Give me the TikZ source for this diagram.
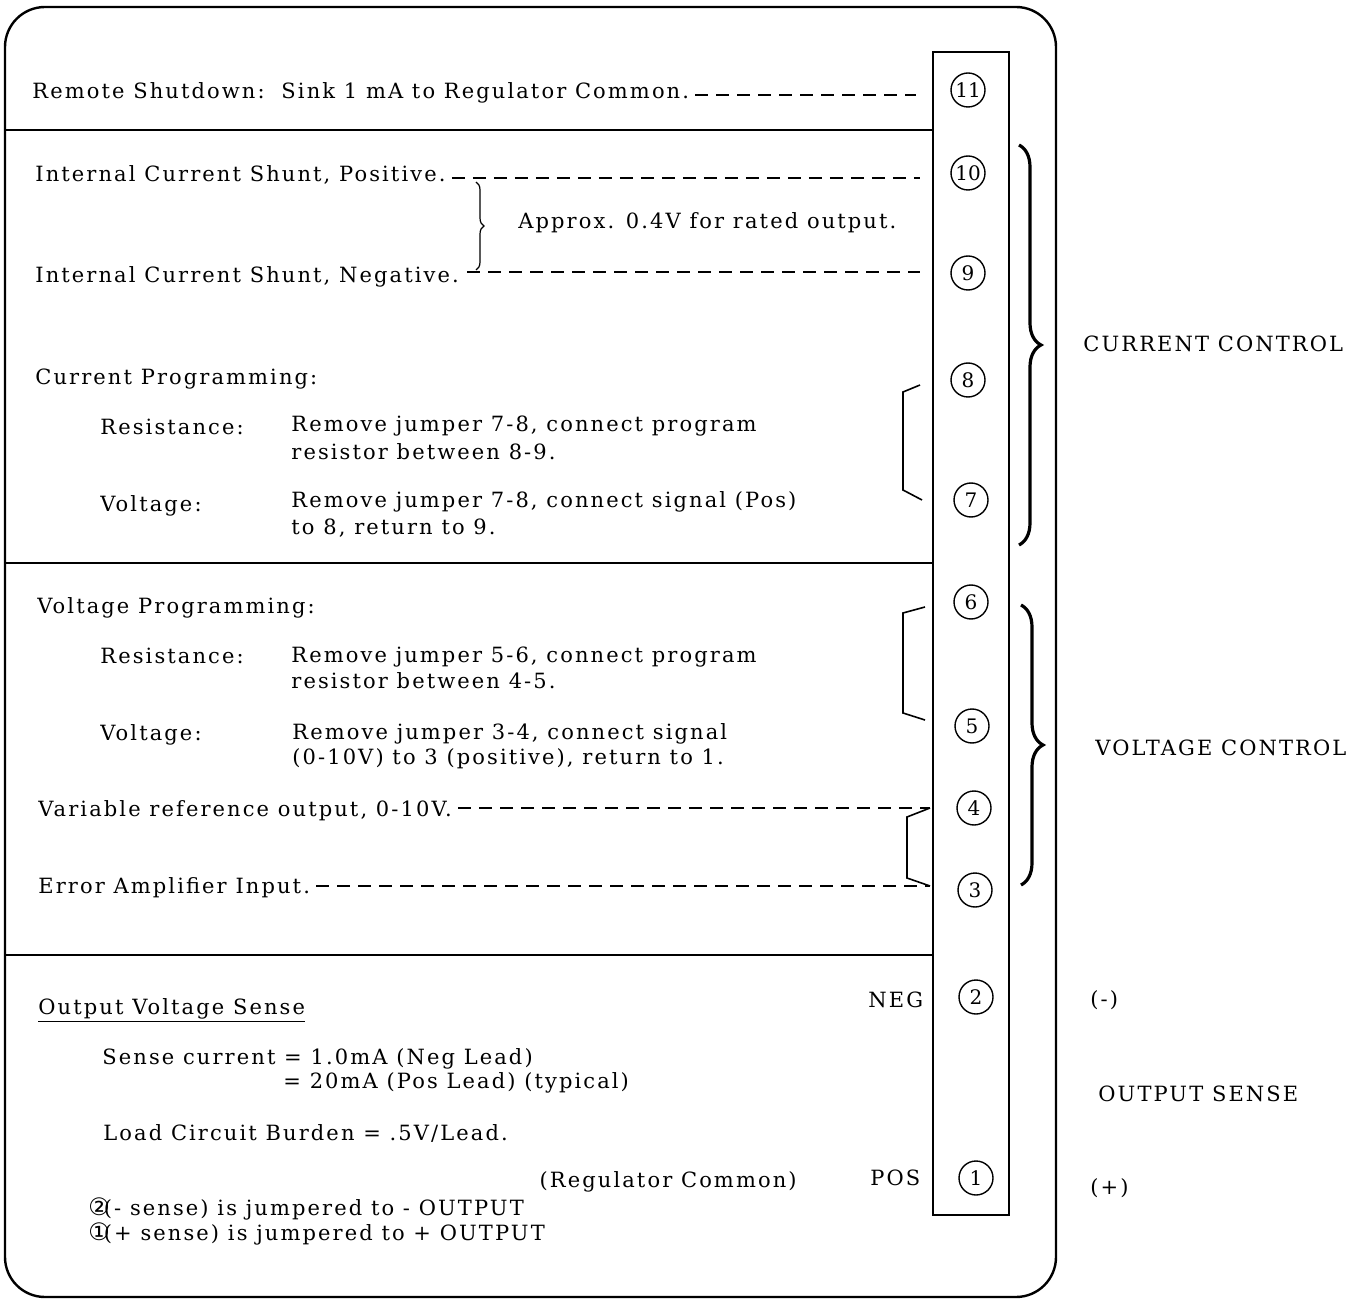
\documentclass[tikz,border=0pt]{standalone}
\usepackage{fontspec}
\setmainfont{DejaVu Serif}[LetterSpace=10]
\newfontfamily\symfont{DejaVu Sans}
\usetikzlibrary{decorations.pathreplacing}

\begin{document}
\begin{tikzpicture}[
    x=0.5pt, y=-0.5pt,
    every node/.style={font=\fontsize{10.5}{12}\selectfont},
    txt/.style={anchor=base west, inner sep=0pt},
    pin/.style={draw, circle, line width=0.7pt, minimum size=17pt, inner sep=0pt,
        font=\fontsize{10}{12}\selectfont\addfontfeature{LetterSpace=0}},
    leader/.style={dash pattern=on 6.5pt off 4pt, line width=0.7pt},
    rule/.style={line width=1pt},
    jumper/.style={line width=0.8pt},
    bigbrace/.style={decorate, decoration={brace, amplitude=11pt}, line width=1.6pt}
]
    \useasboundingbox (0,0) rectangle (1355,1299);

    % frame, terminal strip and section rules
    \draw[line width=1.2pt, rounded corners=20pt] (5,7) rectangle (1056,1297);
    \draw[rule] (933,52) rectangle (1009,1215);
    \draw[rule] (5,130) -- (933,130);
    \draw[rule] (5,563) -- (933,563);
    \draw[rule] (5,955) -- (933,955);

    % terminals
    \node[pin] (p11) at (968,90) {11};
    \node[pin] (p10) at (968,173) {10};
    \node[pin] (p9) at (968,273) {9};
    \node[pin] (p8) at (968,380) {8};
    \node[pin] (p7) at (971,500) {7};
    \node[pin] (p6) at (971,602) {6};
    \node[pin] (p5) at (972,726) {5};
    \node[pin] (p4) at (974,808) {4};
    \node[pin] (p3) at (975,890) {3};
    \node[pin] (p2) at (976,997) {2};
    \node[pin] (p1) at (976,1178) {1};

    % remote shutdown
    \node[txt] (shdn) at (32,99) {Remote Shutdown:\hspace{0.8em}Sink 1 mA to Regulator Common.};
    \coordinate (l11) at (916,95);
    \draw[leader] ([xshift=3pt]shdn.base east) ++(0,-4) -- (l11);

    % current shunt
    \node[txt] (shpos) at (35,182) {Internal Current Shunt, Positive.};
    \node[txt] (shneg) at (35,283) {Internal Current Shunt, Negative.};
    \node[txt] (approx) at (518,229) {Approx. 0.4V for rated output.};
    \coordinate (l10) at (920,178);
    \coordinate (l9) at (920,272);
    \draw[leader] ([xshift=3pt]shpos.base east) ++(0,-4) -- (l10);
    \draw[leader] ([xshift=4pt]shneg.base east) ++(0,-11) -- (l9);
    \draw[decorate, decoration={brace, amplitude=4pt}, line width=0.6pt] (476,182) -- (476,270);

    % current programming
    \node[txt] (curprog) at (35,385) {Current Programming:};
    \node[txt] (cres) at (100,435) {Resistance:};
    \node[txt] (cresA) at (291,432) {Remove jumper 7-8, connect program};
    \node[txt] (cresB) at (291,459) {resistor between 8-9.};
    \node[txt] (cvolt) at (100,512) {Voltage:};
    \node[txt] (cvoltA) at (291,508) {Remove jumper 7-8, connect signal (Pos)};
    \node[txt] (cvoltB) at (291,535) {to 8, return to 9.};
    \draw[jumper] (920,385) -- (903,392) -- (903,490) -- (922,500);

    % voltage programming
    \node[txt] (volprog) at (37,613) {Voltage Programming:};
    \node[txt] (vres) at (100,663) {Resistance:};
    \node[txt] (vresA) at (291,662) {Remove jumper 5-6, connect program};
    \node[txt] (vresB) at (291,688) {resistor between 4-5.};
    \node[txt] (vvolt) at (100,740) {Voltage:};
    \node[txt] (vvoltA) at (292,739) {Remove jumper 3-4, connect signal};
    \node[txt] (vvoltB) at (292,764) {(0-10V) to 3 (positive), return to 1.};
    \draw[jumper] (925,607) -- (903,613) -- (903,713) -- (925,720);

    \node[txt] (varref) at (38,816) {Variable reference output, 0-10V.};
    \node[txt] (erramp) at (38,893) {Error Amplifier Input.};
    \coordinate (l4) at (930,808);
    \coordinate (l3) at (930,886);
    \draw[leader] ([xshift=3pt]varref.base east) ++(0,-8) -- (l4);
    \draw[leader] ([xshift=3pt]erramp.base east) ++(0,-7) -- (l3);
    \draw[jumper] (l4) -- (907,817) -- (907,878) -- (l3);

    % output sense
    \node[txt] (ovs) at (38,1014) {\underline{Output Voltage Sense}};
    \node[txt] (neg) at (868,1007) {NEG};
    \node[txt] (senseA) at (102,1064) {Sense current = 1.0mA (Neg Lead)};
    \node[txt] (senseB) at (283,1088) {= 20mA (Pos Lead) (typical)};
    \node[txt] (burden) at (103,1140) {Load Circuit Burden = .5V/Lead.};
    \node[txt, anchor=base east] (regcom) at (797,1187) {(Regulator Common)};
    \node[txt] (pos) at (870,1185) {POS};
    \node[txt] (jmpA) at (88,1215) {{\symfont\fontsize{12}{12}\selectfont ②}\kern-3pt(- sense) is jumpered to - OUTPUT};
    \node[txt] (jmpB) at (88,1240) {{\symfont\fontsize{12}{12}\selectfont ①}\kern-3pt(+ sense) is jumpered to + OUTPUT};

    % groups
    \draw[bigbrace] (1019,145) -- (1019,545);
    \draw[bigbrace] (1021,605) -- (1021,885);
    \node[txt] (ctrlI) at (1083,352) {CURRENT CONTROL};
    \node[txt] (ctrlV) at (1095,755) {VOLTAGE CONTROL};
    \node[txt] (sneg) at (1090,1006) {(-)};
    \node[txt] (sense) at (1098,1101) {OUTPUT SENSE};
    \node[txt] (spos) at (1090,1194) {(+)};
\end{tikzpicture}
\end{document}
